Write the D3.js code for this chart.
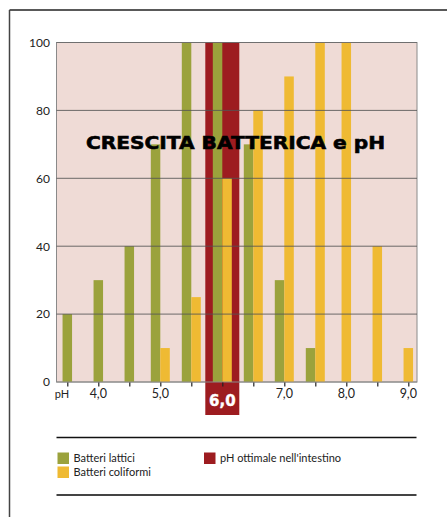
<!DOCTYPE html>
<html><head><meta charset="utf-8">
<script src="https://cdn.jsdelivr.net/npm/d3@7"></script>
<style>
html,body{margin:0;padding:0;background:#fff;}
svg{display:block;}
</style></head>
<body>
<script>
const phValues = [3.5, 4.0, 4.5, 5.0, 5.5, 6.0, 6.5, 7.0, 7.5, 8.0, 8.5, 9.0];
const lattici  = [20, 30, 40, 70, 100, 100, 70, 30, 10, null, null, null];
const coliformi = [null, null, null, 10, 25, 60, 80, 90, 100, 100, 40, 10];
const xTickLabels = [{v:4.0,t:"4,0"},{v:5.0,t:"5,0"},{v:6.0,t:"6,0"},{v:7.0,t:"7,0"},{v:8.0,t:"8,0"},{v:9.0,t:"9,0"}];
const yTicks = [0, 20, 40, 60, 80, 100];
const optimalPH = 6.0;
const title = "CRESCITA BATTERICA e pH";
const legendItems = [
  {label:"Batteri lattici", color:"#9ba23c"},
  {label:"Batteri coliformi", color:"#efba33"},
  {label:"pH ottimale nell'intestino", color:"#9d1c20"}
];

const W = 447, H = 517;
const C = {green:"#9ba23c", yellow:"#efba33", red:"#9d1c20", bg:"#efdbd6"};
const FONT = "Lato, 'DejaVu Sans', sans-serif";
const svg = d3.select("body").append("svg").attr("width", W).attr("height", H)
  .style("font-family", FONT);

// outer frame
svg.append("line").attr("x1",9.5).attr("x2",W).attr("y1",10).attr("y2",10).attr("stroke","#222").attr("stroke-width",1.5);
svg.append("line").attr("x1",9.5).attr("x2",9.5).attr("y1",10).attr("y2",H).attr("stroke","#444").attr("stroke-width",1.5);

const plotL = 56.5, plotR = 417, plotT = 42.5, plotB = 382;
const x = d3.scaleLinear().domain([3.5, 9.0]).range([67.3, 408.3]);
const y = d3.scaleLinear().domain([0, 100]).range([plotB, plotT]);
const bw = 9.5;

// background
svg.append("rect").attr("x",plotL).attr("y",plotT).attr("width",plotR-plotL).attr("height",plotB-plotT)
  .attr("fill",C.bg).attr("stroke","#8a8a8a").attr("stroke-width",1);

// optimal pH band
svg.append("rect").attr("x",x(optimalPH)-17).attr("y",y(100)).attr("width",34).attr("height",415-y(100)).attr("fill",C.red);

// bars
const g = svg.append("g");
phValues.forEach((p,i)=>{
  const a = lattici[i], b = coliformi[i];
  const cx = x(p);
  if (a!=null && b!=null){
    g.append("rect").attr("x",cx-bw).attr("y",y(a)).attr("width",bw).attr("height",y(0)-y(a)).attr("fill",C.green);
    g.append("rect").attr("x",cx).attr("y",y(b)).attr("width",bw).attr("height",y(0)-y(b)).attr("fill",C.yellow);
  } else if (a!=null){
    g.append("rect").attr("x",cx-bw/2).attr("y",y(a)).attr("width",bw).attr("height",y(0)-y(a)).attr("fill",C.green);
  } else if (b!=null){
    g.append("rect").attr("x",cx-bw/2).attr("y",y(b)).attr("width",bw).attr("height",y(0)-y(b)).attr("fill",C.yellow);
  }
});

// gridlines (on top)
yTicks.forEach(t=>{
  if (t===0) return;
  svg.append("line").attr("x1",plotL).attr("x2",plotR).attr("y1",y(t)).attr("y2",y(t))
    .attr("stroke", t===100 ? "#6a6a6a" : "#555").attr("stroke-opacity",0.85).attr("stroke-width",1);
});
svg.append("line").attr("x1",plotL).attr("x2",plotR).attr("y1",plotB).attr("y2",plotB).attr("stroke","#8a8a8a").attr("stroke-width",1);

// y axis labels
const yAxis = d3.axisLeft(y).tickValues(yTicks).tickSize(0).tickPadding(6).tickFormat(d3.format("d"));
const ya = svg.append("g").attr("transform",`translate(${plotL-0.5},0)`).call(yAxis);
ya.select(".domain").remove();
ya.selectAll("text").style("font-size","12px").style("font-family",FONT).attr("fill","#222");

// x ticks
const xAxis = d3.axisBottom(x).tickValues(phValues).tickSize(4).tickFormat("");
const xa = svg.append("g").attr("transform",`translate(0,${plotB+0.5})`).call(xAxis);
xa.select(".domain").remove();
xa.selectAll("line").attr("stroke","#222").attr("stroke-width",1.2);

// x labels
svg.append("text").attr("x",62).attr("y",398).attr("text-anchor","middle").style("font-size","11px").attr("fill","#222").text("pH");
xTickLabels.forEach(d=>{
  const opt = d.v===optimalPH;
  const t = svg.append("text").attr("x",x(d.v)).attr("y", opt?406:398).attr("text-anchor","middle")
    .attr("fill", opt?"#fff":"#222").text(d.t);
  if (opt) t.style("font-family","'DejaVu Sans', sans-serif").style("font-size","15px").style("font-weight","bold")
            .attr("stroke","#fff").attr("stroke-width",0.4);
  else t.style("font-size","12.5px");
});

// title
svg.append("text").attr("x",86).attr("y",148.5)
  .style("font-family","'DejaVu Sans', sans-serif").style("font-size","18px").style("font-weight","bold")
  .attr("fill","#000").attr("stroke","#000").attr("stroke-width",0.6)
  .attr("textLength",299).attr("lengthAdjust","spacingAndGlyphs").text(title);

// legend
svg.append("line").attr("x1",56.5).attr("x2",416.5).attr("y1",437.5).attr("y2",437.5).attr("stroke","#111").attr("stroke-width",1.3);
svg.append("line").attr("x1",56.5).attr("x2",416.5).attr("y1",495).attr("y2",495).attr("stroke","#444").attr("stroke-width",2);
const legPos = [{x:57.5,y:452.5},{x:57.5,y:466.5},{x:204,y:452.5}];
legendItems.forEach((d,i)=>{
  const p = legPos[i];
  svg.append("rect").attr("x",p.x).attr("y",p.y).attr("width",11.5).attr("height",11.5).attr("fill",d.color);
  svg.append("text").attr("x",p.x+16).attr("y",p.y+9.5).style("font-size","11px").attr("fill","#222").text(d.label);
});
</script>
</body></html>
